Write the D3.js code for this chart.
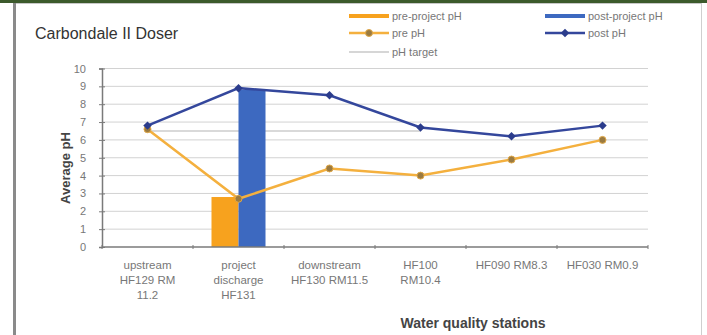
<!DOCTYPE html>
<html>
<head>
<meta charset="utf-8">
<script src="https://cdn.jsdelivr.net/npm/d3@7"></script>
<style>
body { margin: 0; background: #fff; }
text { font-family: "Liberation Sans", Arial, sans-serif; }
</style>
</head>
<body>
<script>
var stations = ["upstream|HF129 RM|11.2", "project|discharge|HF131", "downstream|HF130 RM11.5", "HF100|RM10.4", "HF090 RM8.3", "HF030 RM0.9"];
var prePh = [6.6, 2.7, 4.4, 4.0, 4.9, 6.0];
var postPh = [6.8, 8.9, 8.5, 6.7, 6.2, 6.8];
var preProjectPh = [null, 2.8, null, null, null, null];
var postProjectPh = [null, 8.8, null, null, null, null];
var phTarget = [6.5, 6.5, 6.5, 6.5, null, null];
var yTicks = [0, 1, 2, 3, 4, 5, 6, 7, 8, 9, 10];

var w = 707;
var h = 335;
var orange = "#f7a21e";
var orangeLine = "#f4b03e";
var barBlue = "#3d69c0";
var lineBlue = "#34479c";

var svg = d3.select("body")
    .append("svg")
    .attr("width", w)
    .attr("height", h);

// frame
svg.append("rect").attr("x", 0).attr("y", 0).attr("width", w).attr("height", 3).attr("fill", "#3c5a2c");
svg.append("rect").attr("x", 13).attr("y", 3).attr("width", 3).attr("height", h - 3).attr("fill", "#8a8a8a");
svg.append("rect").attr("x", 16).attr("y", 3).attr("width", 686).attr("height", 1).attr("fill", "#c8c8c8");
svg.append("rect").attr("x", 701).attr("y", 3).attr("width", 1).attr("height", h - 3).attr("fill", "#cfcfcf");

var x = d3.scaleBand().domain(d3.range(stations.length)).range([102, 648]);
var y = d3.scaleLinear().domain([0, 10]).range([247, 68.5]);

// grid
svg.selectAll(".grid")
    .data(yTicks.filter(function (d) { return d > 0; }))
    .enter()
    .append("line")
    .attr("x1", 102).attr("x2", 648)
    .attr("y1", function (d) { return y(d); })
    .attr("y2", function (d) { return y(d); })
    .attr("stroke", "#d2d2d2")
    .attr("stroke-width", 1);

// target (behind the bars)
var lineGen = d3.line()
    .defined(function (d) { return d != null; })
    .x(function (d, i) { return x(i) + x.bandwidth() / 2; })
    .y(function (d) { return y(d); });

svg.append("path").attr("d", lineGen(phTarget)).attr("fill", "none")
    .attr("stroke", "#d9d9d9").attr("stroke-width", 2);

// bars
var barW = 27;
var drawBars = function (values, offset, color) {
    svg.selectAll(null)
        .data(values.map(function (v, i) { return { i: i, v: v }; }).filter(function (d) { return d.v != null; }))
        .enter()
        .append("rect")
        .attr("x", function (d) { return x(d.i) + x.bandwidth() / 2 + offset; })
        .attr("y", function (d) { return y(d.v); })
        .attr("width", barW)
        .attr("height", function (d) { return y(0) - y(d.v); })
        .attr("fill", color);
};
drawBars(preProjectPh, -barW, orange);
drawBars(postProjectPh, 0, barBlue);

// axes
var yAxis = d3.axisLeft(y).tickValues(yTicks).tickSize(3).tickPadding(13);
var gy = svg.append("g").attr("transform", "translate(102,0)").call(yAxis);
gy.select(".domain").attr("stroke", "#7a7a7a").attr("stroke-width", 1.5);
gy.selectAll(".tick line").attr("stroke", "#7a7a7a").attr("x2", 3).attr("x1", -3);
gy.selectAll(".tick text").attr("fill", "#777").style("font-size", "11px");

svg.append("line").attr("x1", 102).attr("x2", 648).attr("y1", y(0)).attr("y2", y(0))
    .attr("stroke", "#7a7a7a").attr("stroke-width", 1.5);
svg.selectAll(".xtick")
    .data(d3.range(stations.length + 1))
    .enter()
    .append("line")
    .attr("x1", function (d) { return 102 + d * x.bandwidth(); })
    .attr("x2", function (d) { return 102 + d * x.bandwidth(); })
    .attr("y1", y(0) - 2).attr("y2", y(0) + 2)
    .attr("stroke", "#7a7a7a");

// pre pH line
svg.append("path").attr("d", lineGen(prePh)).attr("fill", "none")
    .attr("stroke", orangeLine).attr("stroke-width", 2.5);
svg.selectAll(".prept")
    .data(prePh)
    .enter()
    .append("circle")
    .attr("cx", function (d, i) { return x(i) + x.bandwidth() / 2; })
    .attr("cy", function (d) { return y(d); })
    .attr("r", 3.5)
    .attr("fill", "#9a7a40")
    .attr("stroke", "#e0a848")
    .attr("stroke-width", 1);

// post pH line
svg.append("path").attr("d", lineGen(postPh)).attr("fill", "none")
    .attr("stroke", lineBlue).attr("stroke-width", 2.5);
svg.selectAll(".postpt")
    .data(postPh)
    .enter()
    .append("rect")
    .attr("x", -3).attr("y", -3).attr("width", 6).attr("height", 6)
    .attr("transform", function (d, i) { return "translate(" + (x(i) + x.bandwidth() / 2) + "," + y(d) + ") rotate(45)"; })
    .attr("fill", "#2b3c8c");

// x labels
stations.forEach(function (s, i) {
    var t = svg.append("text")
        .attr("x", x(i) + x.bandwidth() / 2)
        .attr("y", 269)
        .attr("text-anchor", "middle")
        .attr("fill", "#777")
        .style("font-size", "11.5px");
    s.split("|").forEach(function (line, j) {
        t.append("tspan").attr("x", x(i) + x.bandwidth() / 2).attr("dy", j == 0 ? 0 : 15).text(line);
    });
});

// titles
svg.append("text").attr("x", 35).attr("y", 39).attr("fill", "#333").style("font-size", "16px").text("Carbondale II Doser");
svg.append("text").attr("x", 473).attr("y", 328).attr("text-anchor", "middle").attr("fill", "#444")
    .style("font-size", "14px").style("font-weight", "bold").text("Water quality stations");
svg.append("text").attr("transform", "translate(70,168) rotate(-90)").attr("text-anchor", "middle")
    .attr("fill", "#444").style("font-size", "13px").style("font-weight", "bold").text("Average pH");

// legend
var legend = [
    { label: "pre-project pH", x: 349, y: 16, color: orange, width: 4, marker: null },
    { label: "pre pH", x: 349, y: 33, color: orangeLine, width: 2.5, marker: "circle" },
    { label: "pH target", x: 349, y: 52, color: "#d6d6d6", width: 2, marker: null },
    { label: "post-project pH", x: 545, y: 16, color: barBlue, width: 4, marker: null },
    { label: "post pH", x: 545, y: 33, color: lineBlue, width: 2.5, marker: "diamond" }
];
legend.forEach(function (d) {
    var g = svg.append("g");
    g.append("line").attr("x1", d.x).attr("x2", d.x + 40).attr("y1", d.y).attr("y2", d.y)
        .attr("stroke", d.color).attr("stroke-width", d.width);
    if (d.marker == "circle") {
        g.append("circle").attr("cx", d.x + 20).attr("cy", d.y).attr("r", 3.5)
            .attr("fill", "#9a7a40").attr("stroke", "#e0a848");
    } else if (d.marker == "diamond") {
        g.append("rect").attr("x", -3).attr("y", -3).attr("width", 6).attr("height", 6)
            .attr("transform", "translate(" + (d.x + 20) + "," + d.y + ") rotate(45)").attr("fill", "#2b3c8c");
    }
    g.append("text").attr("x", d.x + 43).attr("y", d.y + 4).attr("fill", "#777")
        .style("font-size", "11px").text(d.label);
});
</script>
</body>
</html>
